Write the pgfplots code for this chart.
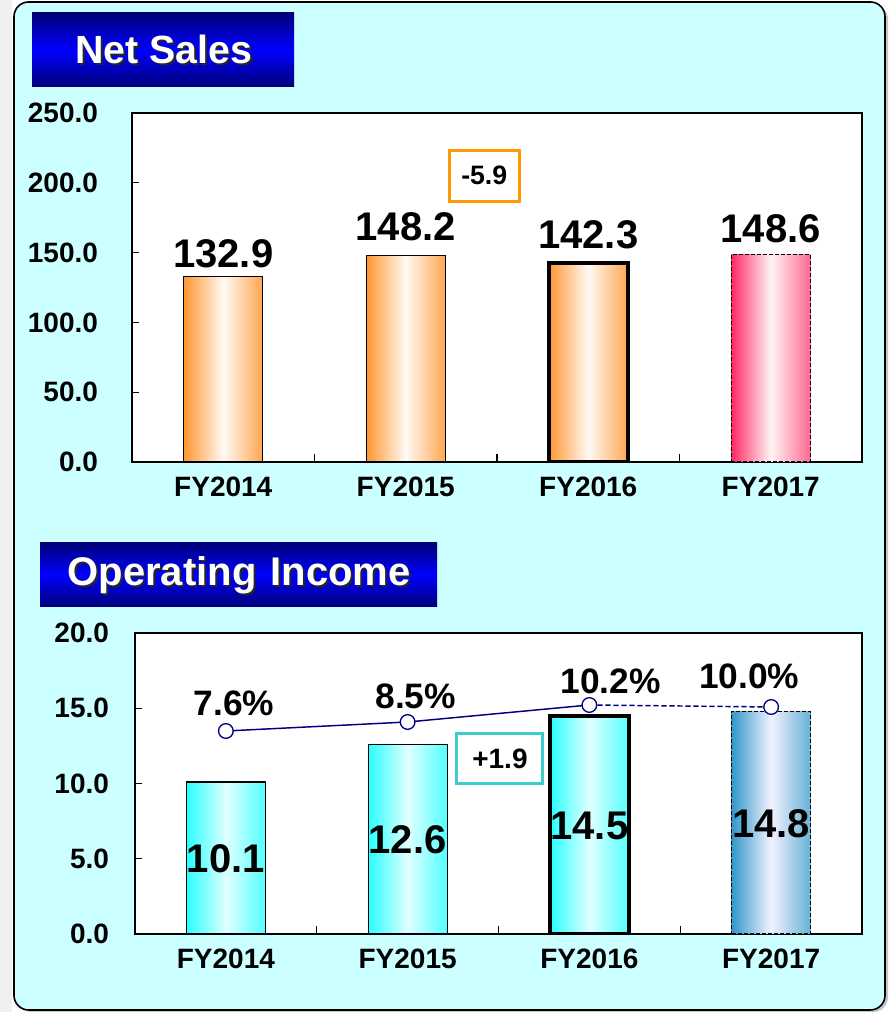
\documentclass[border=0pt]{standalone}
\usepackage{fontspec}
\setmainfont{Liberation Sans}
\usepackage{pgfplots}
\pgfplotsset{compat=1.18}
\usepackage{pgfplotstable}

\definecolor{bgcyan}{RGB}{204,255,255}
\definecolor{navyt}{RGB}{0,0,120}
\definecolor{bluet}{RGB}{0,0,255}
\definecolor{barorange}{RGB}{255,150,50}
\definecolor{barpink}{RGB}{255,40,100}
\definecolor{barcyan}{RGB}{40,255,255}
\definecolor{barsteel}{RGB}{50,150,200}
\definecolor{boxorange}{RGB}{255,153,0}
\definecolor{boxteal}{RGB}{60,204,204}
\definecolor{linenavy}{RGB}{0,0,128}

\pgfplotstableread{
x p dx dy
0 7.6 6 21
1 8.5 6 19.5
2 10.2 16 18
3 10.0 -16.5 23
}\margintable

\pgfplotstableread{
x half val
0 5.0 10.1
1 6.25 12.6
2 7.15 14.5
3 7.35 14.8
}\oplabels

\pgfplotsset{
  onedec/.style={/pgf/number format/fixed, /pgf/number format/fixed zerofill,
    /pgf/number format/precision=1, /pgf/number format/assume math mode=true},
  panel/.style={
    scale only axis, anchor=south west,
    xmin=-0.5, xmax=3.5,
    xtick={0,1,2,3}, xticklabels={FY2014,FY2015,FY2016,FY2017},
    minor xtick={0.5,1.5,2.5},
    tick pos=left, tick align=inside,
    major tick length=5pt, minor tick length=6pt,
    tick style={black, line width=0.8pt},
    every major x tick/.append style={draw=none},
    axis background/.style={fill=white},
    axis line style={line width=1pt},
    ticklabel style={font=\fontsize{21}{25}\selectfont\bfseries},
    y tick label style={/pgfplots/onedec},
    x tick label style={yshift=-8pt},
  },
  valbar/.style={ybar, bar width=59.25pt, bar shift=0pt, draw=black, line width=0.8pt},
  toplabel/.style={nodes near coords,
    every node near coord/.append style={font=\fontsize{30}{34}\selectfont\bfseries, inner sep=0pt, yshift=#1,
      /pgfplots/onedec}},
}

\begin{document}
\begin{tikzpicture}[x=0.75pt,y=0.75pt]
% page background
\fill[white] (0,0) rectangle (891,1012);
\fill[gray!12] (0,0) rectangle (12,1012);
\fill[gray!45, rounded corners=11pt] (17,0) rectangle (888,1007);
\filldraw[fill=bgcyan, draw=black, line width=1.2pt, rounded corners=11pt] (14,2) rectangle (885,1010);

% title boxes
\shade[top color=navyt, bottom color=navyt, middle color=bluet] (32,925) rectangle (294,999);
\node[black!85, font=\fontsize{29.5}{34}\selectfont\bfseries] at (166,961) {Net Sales};
\node[white, font=\fontsize{29.5}{34}\selectfont\bfseries] at (164,963) {Net Sales};
\shade[top color=navyt, bottom color=navyt, middle color=bluet] (40,405) rectangle (437,469);
\node[black!85, font=\fontsize{30}{34}\selectfont\bfseries] at (241,435) {Operating\hspace{0.35em}Income};
\node[white, font=\fontsize{30}{34}\selectfont\bfseries] at (239,437) {Operating\hspace{0.35em}Income};

% ---------------- Net Sales ----------------
\begin{axis}[panel, at={(99pt,412.5pt)}, width=547.5pt, height=261.75pt,
  ymin=0, ymax=250, ytick={0,50,100,150,200,250},
  y tick label style={xshift=-22pt}]
\addplot[valbar, left color=barorange, right color=barorange!85, middle color=white!96!orange, toplabel=6pt] coordinates {(0,132.9)};
\addplot[valbar, left color=barorange, right color=barorange!85, middle color=white!96!orange, toplabel=10pt] coordinates {(1,148.2)};
\addplot[valbar, line width=3pt, left color=barorange, right color=barorange!85, middle color=white!96!orange, toplabel=9pt] coordinates {(2,142.3)};
\addplot[valbar, dash pattern=on 3pt off 1.5pt, left color=barpink, right color=barpink!70, middle color=white!96!red, toplabel=8pt] coordinates {(3,148.6)};
\node[draw=boxorange, line width=2.2pt, fill=white, minimum width=52.5pt, minimum height=38pt,
  font=\fontsize{20}{24}\selectfont\bfseries] at (axis cs:1.43,205) {-5.9};
\end{axis}

% ---------------- Operating Income ----------------
\begin{axis}[panel, at={(101.25pt,58.5pt)}, width=545.25pt, height=225.75pt,
  ymin=0, ymax=20, ytick={0,5,10,15,20},
  y tick label style={xshift=-16pt}]
\addplot[valbar, left color=barcyan, right color=barcyan!80, middle color=white!88!cyan] coordinates {(0,10.1)};
\addplot[valbar, left color=barcyan, right color=barcyan!80, middle color=white!88!cyan] coordinates {(1,12.6)};
\addplot[valbar, line width=3pt, left color=barcyan, right color=barcyan!80, middle color=white!88!cyan] coordinates {(2,14.5)};
\addplot[valbar, dash pattern=on 3pt off 1.5pt, left color=barsteel, right color=barsteel!75, middle color=white!95!blue] coordinates {(3,14.8)};
\addplot[draw=none, mark=none, nodes near coords, point meta=explicit,
  nodes near coords align={anchor=center},
  every node near coord/.append style={font=\fontsize{30}{34}\selectfont\bfseries, anchor=center, /pgfplots/onedec}]
  table[x=x, y=half, meta=val] {\oplabels};
\node[draw=boxteal, line width=2.2pt, fill=white, minimum width=64.5pt, minimum height=37.5pt,
  font=\fontsize{21}{25}\selectfont\bfseries] at (axis cs:1.508,11.63) {+1.9};
\end{axis}

% margin line (secondary, hidden scale)
\begin{axis}[scale only axis, anchor=south west, at={(101.25pt,58.5pt)}, width=545.25pt, height=225.75pt,
  xmin=-0.5, xmax=3.5, ymin=-12.7, ymax=17.4, hide axis, clip=false]
\addplot[linenavy, line width=1.1pt, mark=none] coordinates {(0,7.6) (1,8.5) (2,10.2)};
\addplot[linenavy, line width=1.1pt, dash pattern=on 4pt off 2pt, mark=none] coordinates {(2,10.2) (3,10.0)};
\addplot[only marks, mark=*, mark size=5.5pt, mark options={fill=white, draw=linenavy, line width=1pt},
  nodes near coords={\pgfmathprintnumber[fixed,fixed zerofill,precision=1,assume math mode=true]{\pgfplotspointmeta}\%},
  point meta=explicit,
  visualization depends on={\thisrow{dx} \as \dx},
  visualization depends on={\thisrow{dy} \as \dy},
  every node near coord/.append style={black, font=\fontsize{26.5}{30}\selectfont\bfseries, anchor=center, xshift=\dx pt, yshift=\dy pt}]
  table[x=x, y=p, meta=p] {\margintable};
\end{axis}
\end{tikzpicture}
\end{document}
